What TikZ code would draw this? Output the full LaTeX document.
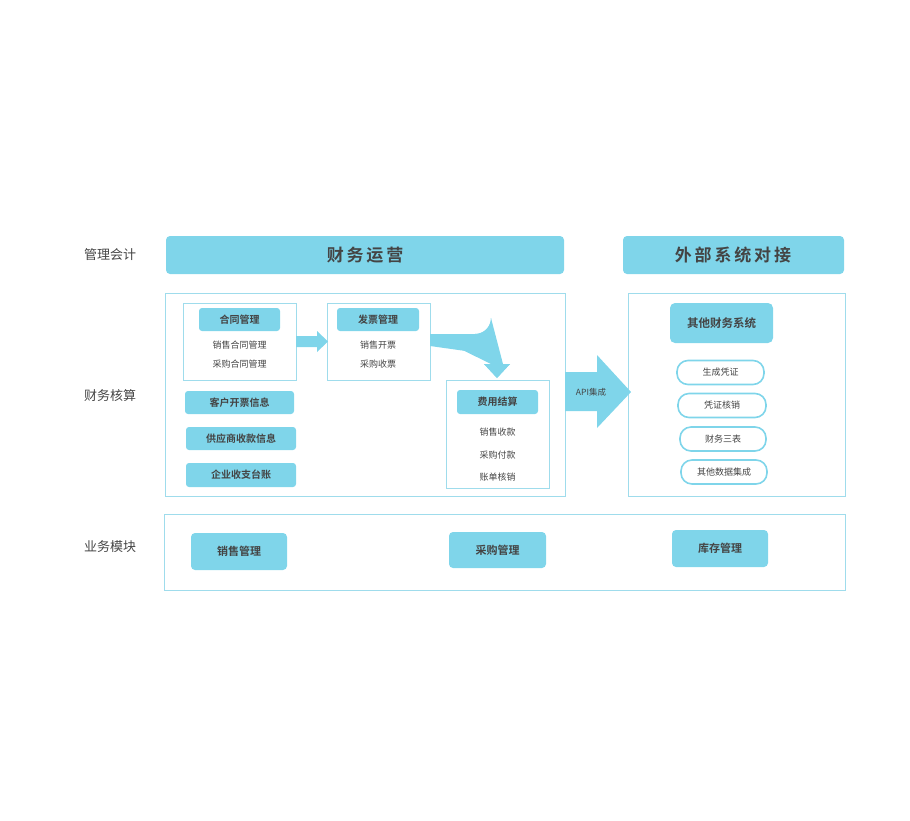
\documentclass[tikz,border=0pt]{standalone}
\usepackage{fontspec}
\setmainfont{Noto Sans CJK SC}
\newfontfamily\cjkb{Noto Sans CJK SC Bold}
\usetikzlibrary{arrows.meta}
\definecolor{cy}{HTML}{7FD5EA}
\definecolor{ln}{HTML}{9FDCEC}
\definecolor{tx}{HTML}{444444}
\begin{document}
\begin{tikzpicture}[x=1pt,y=-1pt,
 fb/.style={fill=cy,rounded corners=3pt,text=tx,font=\cjkb\fontsize{11}{12}\selectfont},
 frame/.style={draw=ln,line width=1pt},
 it/.style={text=tx,font=\fontsize{9}{10}\selectfont},
 pill/.style={draw=cy,line width=1.6pt,rounded corners=11pt,fill=white,text=tx,font=\fontsize{9}{10}\selectfont},
 side/.style={text=tx,font=\fontsize{13}{14}\selectfont}]
\useasboundingbox (0,0) rectangle (910,820);
\node[side] (l1) at (110,255) {管理会计};
\node[side] (l2) at (110,396) {财务核算};
\node[side] (l3) at (110,547) {业务模块};
\node[fb,font=\cjkb\fontsize{17}{18}\selectfont,minimum width=0pt] (h1) at (365,255) {};
\fill[cy,rounded corners=4pt] (166,236) rectangle (564,274);
\node[text=tx,font=\cjkb\fontsize{17}{18}\selectfont] (h1t) at (365,255) {财\,务\,运\,营};
\fill[cy,rounded corners=4pt] (623,236) rectangle (844,274);
\node[text=tx,font=\cjkb\fontsize{17}{18}\selectfont] (h2t) at (733,255) {外\,部\,系\,统\,对\,接};
\draw[frame] (165,293) rectangle (565,496);
\draw[frame] (628,293) rectangle (845,496);
\draw[frame] (164,514) rectangle (845,590);
% contract box
\draw[frame] (183,303) rectangle (296,380);
\fill[cy,rounded corners=3pt] (199,308) rectangle (280,331);
\node[text=tx,font=\cjkb\fontsize{10}{11}\selectfont] (c1) at (239.5,319.5) {合同管理};
\node[it] (c2) at (239.5,345) {销售合同管理};
\node[it] (c3) at (239.5,364) {采购合同管理};
\draw[frame] (327,303) rectangle (430,380);
\fill[cy,rounded corners=3pt] (337,308) rectangle (419,331);
\node[text=tx,font=\cjkb\fontsize{10}{11}\selectfont] (f1) at (378,319.5) {发票管理};
\node[it] (f2) at (378,345) {销售开票};
\node[it] (f3) at (378,364) {采购收票};
% arrow 1
\fill[cy] (296,336) -- (317,336) -- (317,331) -- (328,341.5) -- (317,352) -- (317,347) -- (296,347) -- cycle;
% curved arrow
\fill[cy] (430,334) -- (475,334) arc[start angle=90,end angle=0,radius=16] -- (491,364) -- (497,364) -- (497,364) -- (510,364) -- (497,378) -- (484,364) -- (491,364) -- (491,364) -- (491,364);
\fill[cy] (430,334) -- (475,334) arc[start angle=90,end angle=0,radius=16] -- (503,364) -- (510,364) -- (497,378) -- (484,364) -- (491,364) -- (491,350) arc[start angle=0,end angle=90,radius=4] -- (430,346) -- cycle;
% fee box
\draw[frame] (446,380) rectangle (549,488);
\fill[cy,rounded corners=3pt] (457,390) rectangle (538,414);
\node[text=tx,font=\cjkb\fontsize{10}{11}\selectfont] (e1) at (497.5,402) {费用结算};
\node[it] (e2) at (497.5,432) {销售收款};
\node[it] (e3) at (497.5,455) {采购付款};
\node[it] (e4) at (497.5,477) {账单核销};
% left buttons
\fill[cy,rounded corners=3pt] (185,391) rectangle (294,414);
\node[text=tx,font=\cjkb\fontsize{10}{11}\selectfont] (k1) at (239.5,402.5) {客户开票信息};
\fill[cy,rounded corners=3pt] (186,427) rectangle (296,450);
\node[text=tx,font=\cjkb\fontsize{10}{11}\selectfont] (k2) at (241,438.5) {供应商收款信息};
\fill[cy,rounded corners=3pt] (186,463) rectangle (296,487);
\node[text=tx,font=\cjkb\fontsize{10}{11}\selectfont] (k3) at (241,475) {企业收支台账};
% API arrow
\fill[cy] (565,372) -- (597,372) -- (597,355) -- (631,392) -- (597,428) -- (597,411) -- (565,411) -- cycle;
\node[text=tx,font=\fontsize{8.5}{10}\selectfont] (api) at (591,392) {API集成};
% right
\fill[cy,rounded corners=5pt] (670,303) rectangle (773,343);
\node[text=tx,font=\cjkb\fontsize{11.5}{12}\selectfont] (o1) at (721.5,323) {其他财务系统};
\node[pill,minimum width=87pt,minimum height=24pt] (p1) at (720.5,372.5) {生成凭证};
\node[pill,minimum width=88pt,minimum height=24pt] (p2) at (722,405.5) {凭证核销};
\node[pill,minimum width=86pt,minimum height=24pt] (p3) at (723,439) {财务三表};
\node[pill,minimum width=86pt,minimum height=24pt] (p4) at (724,472) {其他数据集成};
% bottom
\fill[cy,rounded corners=4pt] (191,533) rectangle (287,570);
\node[text=tx,font=\cjkb\fontsize{11}{12}\selectfont] (b1) at (239,551.5) {销售管理};
\fill[cy,rounded corners=4pt] (449,532) rectangle (546,568);
\node[text=tx,font=\cjkb\fontsize{11}{12}\selectfont] (b2) at (497.5,550) {采购管理};
\fill[cy,rounded corners=4pt] (672,530) rectangle (768,567);
\node[text=tx,font=\cjkb\fontsize{11}{12}\selectfont] (b3) at (720,548.5) {库存管理};
\end{tikzpicture}
\end{document}
